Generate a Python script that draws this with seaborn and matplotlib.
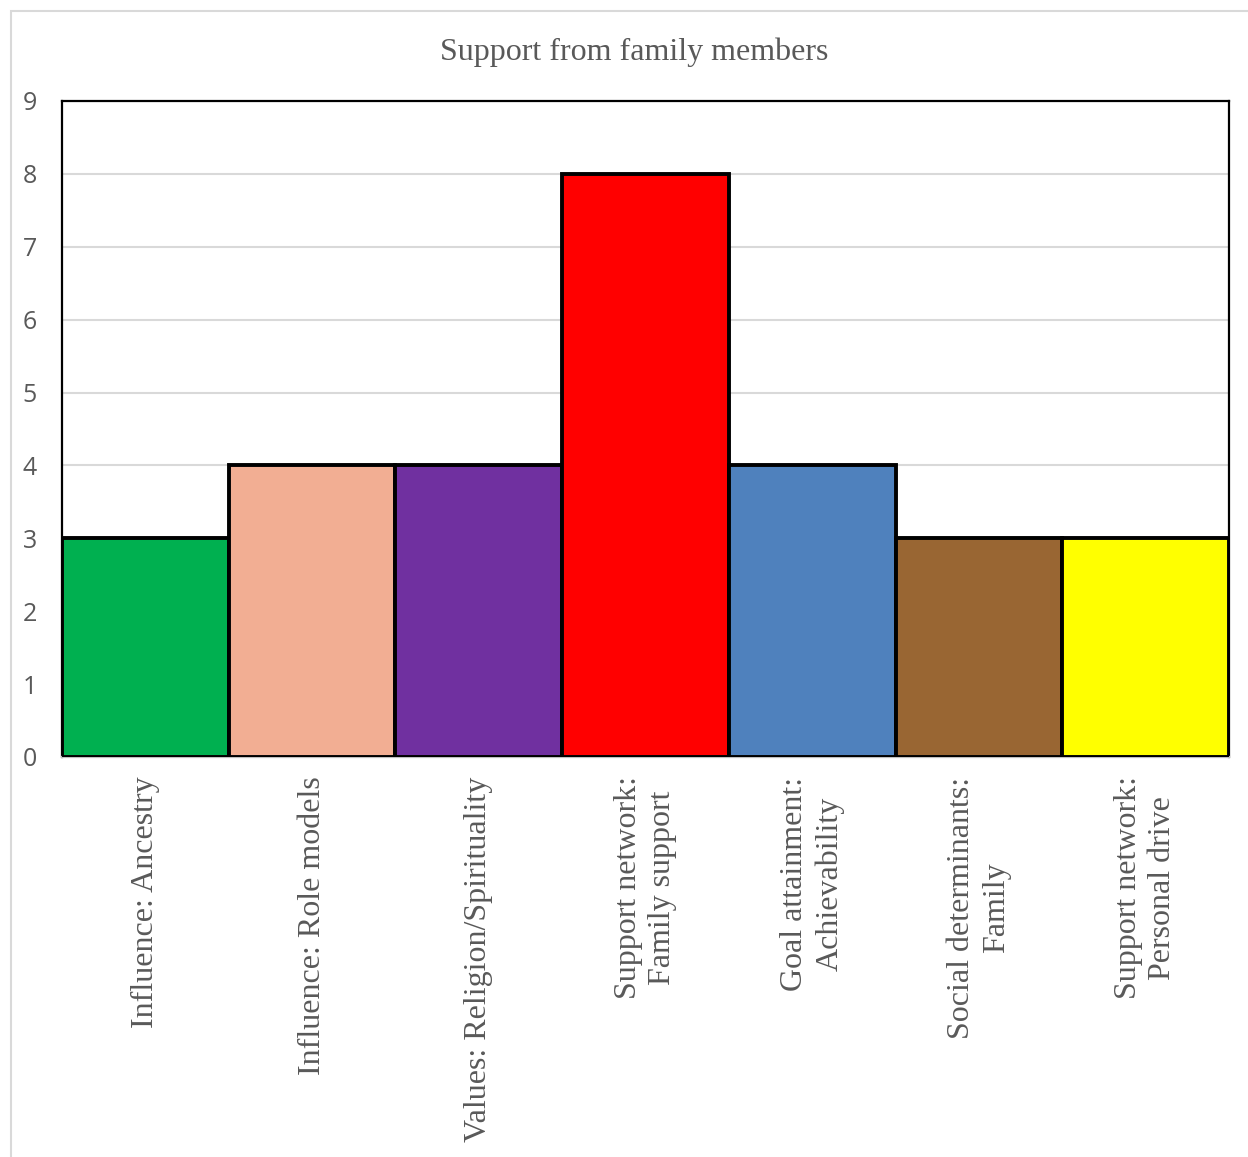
import matplotlib
matplotlib.use("Agg")
import matplotlib.pyplot as plt
import seaborn as sns
import pandas as pd
from matplotlib.patches import Rectangle

categories = [
    "Influence: Ancestry",
    "Influence: Role models",
    "Values: Religion/Spirituality",
    "Support network:\nFamily support",
    "Goal attainment:\nAchievability",
    "Social determinants:\nFamily",
    "Support network:\nPersonal drive",
]
counts = [3, 4, 4, 8, 4, 3, 3]
bar_colors = ["#00B050", "#F2AE93", "#7030A0", "#FF0000", "#4F81BD", "#996633", "#FFFF00"]
y_ticks = list(range(0, 10))
title = "Support from family members"

sns.set_theme(style="white")
serif = ["Liberation Serif", "DejaVu Serif"]
sans = ["Open Sans", "DejaVu Sans"]

df = pd.DataFrame({"category": categories, "count": counts})

fig = plt.figure(figsize=(12.48, 11.57), dpi=100)
fig.patch.set_facecolor("white")
# light outer chart border
fig.add_artist(Rectangle((11 / 1248, -0.05), 1.2, 1 - 11 / 1157 + 0.05,
                         transform=fig.transFigure, fill=False,
                         edgecolor="#d9d9d9", linewidth=1.5))

ax = fig.add_axes([62 / 1248, 1 - 757 / 1157, (1229 - 62) / 1248, (757 - 101) / 1157])
sns.barplot(data=df, x="category", y="count", hue="category", palette=bar_colors,
            saturation=1, width=1.0, edgecolor="black", linewidth=2.8,
            legend=False, ax=ax, zorder=3)

ax.set_xlim(-0.5, len(categories) - 0.5)
ax.set_ylim(0, 9)
ax.set_yticks(y_ticks)
ax.yaxis.grid(True, color="#d9d9d9", linewidth=1.5, zorder=0)
ax.xaxis.grid(False)
ax.set_axisbelow(True)

for side in ["top", "right", "left"]:
    ax.spines[side].set_visible(True)
    ax.spines[side].set_color("black")
    ax.spines[side].set_linewidth(1.6)
ax.spines["bottom"].set_color("#bfbfbf")
ax.spines["bottom"].set_linewidth(1.6)

ax.set_xlabel("")
ax.set_ylabel("")
ax.tick_params(axis="y", length=0, pad=18, labelsize=18, labelcolor="#595959")
ax.tick_params(axis="x", length=0, pad=14)
for lbl in ax.get_yticklabels():
    lbl.set_family(sans)

ax.set_xticks(range(len(categories)))
ax.set_xticklabels(categories, rotation=90, ha="center", va="top",
                   multialignment="center", fontsize=23, color="#595959",
                   family=serif, linespacing=1.25)

fig.text(0.508, 1 - 52 / 1157, title, ha="center", va="center",
         fontsize=23, color="#595959", family=serif)

fig.savefig("out.png", dpi=100, facecolor="white")
